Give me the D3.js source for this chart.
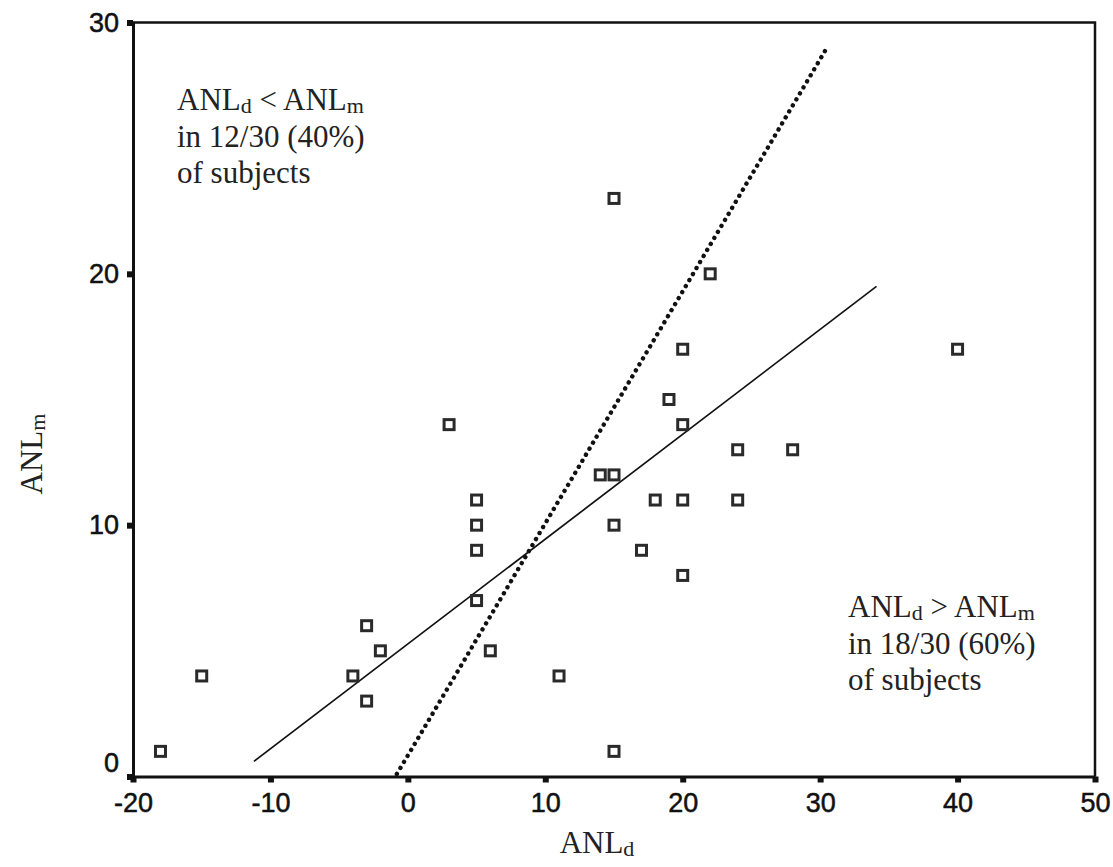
<!DOCTYPE html>
<html>
<head>
<meta charset="utf-8">
<script src="https://cdn.jsdelivr.net/npm/d3@7"></script>
<style>
  body { margin: 0; background: #fff; }
  svg { display: block; }
</style>
</head>
<body>
<svg id="vis" width="1113" height="867"></svg>
<script>
// ANL_d (x) and ANL_m (y) for the 30 subjects
const anlD = [-18, -15, -4, -3, -3, -2, 3, 5, 5, 5, 5, 6, 11, 14, 15, 15, 15, 15, 17, 18, 19, 20, 20, 20, 20, 22, 24, 24, 28, 40];
const anlM = [1, 4, 4, 3, 6, 5, 14, 11, 10, 9, 7, 5, 4, 12, 12, 10, 23, 1, 9, 11, 15, 17, 14, 11, 8, 20, 13, 11, 13, 17];

// fitted line (solid) and the dotted line, as end points in data units
const fitX = [-11.2, 34.1];
const fitY = [0.6, 19.5];
const dotX = [-0.8, 30.5];
const dotY = [0.1, 29.0];

const xTicks = [-20, -10, 0, 10, 20, 30, 40, 50];
const yTicks = [0, 10, 20, 30];

const svg = d3.select("#vis");

// SCALES
const x = d3.scaleLinear().domain([-20, 50]).range([133, 1095]);
const y = d3.scaleLinear().domain([0, 30]).range([776.5, 22.5]);

const points = anlD.map((d, i) => ({ x: d, y: anlM[i] }));

// frame (top and right)
svg.append("path")
  .attr("d", `M${x(-20)},${y(30)}H${x(50)}V${y(0)}`)
  .attr("fill", "none")
  .attr("stroke", "#111")
  .attr("stroke-width", 2.5);

// axes - plain hyphen minus like the original
const xAxis = d3.axisBottom(x).tickValues(xTicks).tickSize(0).tickPadding(16)
  .tickFormat(d => String(d));
const yAxis = d3.axisLeft(y).tickValues(yTicks).tickSize(0).tickPadding(14)
  .tickFormat(d => String(d));

const gx = svg.append("g")
  .attr("transform", `translate(0,${y(0)})`)
  .call(xAxis);
const gy = svg.append("g")
  .attr("transform", `translate(${x(-20)},0)`)
  .call(yAxis);

[gx, gy].forEach(g => {
  g.select(".domain").attr("stroke", "#111").attr("stroke-width", 3);
  g.selectAll("text")
    .attr("fill", "#111")
    .style("font-family", "'Liberation Sans', Arial, sans-serif")
    .style("font-size", "27px")
    .style("stroke", "#111")
    .style("stroke-width", "0.5px");
});

// little block ticks
gx.selectAll(".tick").append("rect")
  .attr("x", -3).attr("y", 0).attr("width", 6).attr("height", 6)
  .attr("fill", "#111");
gy.selectAll(".tick").append("rect")
  .attr("x", -6).attr("y", -3).attr("width", 6).attr("height", 6)
  .attr("fill", "#111");

// "0" label sits a bit above the axis
gy.selectAll(".tick").filter(d => d === 0).select("text").attr("dy", "-0.2em");

// lines
const line = d3.line().x(d => x(d[0])).y(d => y(d[1]));

svg.append("path")
  .datum(fitX.map((v, i) => [v, fitY[i]]))
  .attr("d", line)
  .attr("fill", "none")
  .attr("stroke", "#111")
  .attr("stroke-width", 1.7);

svg.append("path")
  .datum(dotX.map((v, i) => [v, dotY[i]]))
  .attr("d", line)
  .attr("fill", "none")
  .attr("stroke", "#111")
  .attr("stroke-width", 4.4)
  .attr("stroke-linecap", "round")
  .attr("stroke-dasharray", "0.1 6.9");

// points
svg.append("g")
  .selectAll("rect")
  .data(points)
  .join("rect")
  .attr("x", d => x(d.x) - 5)
  .attr("y", d => y(d.y) - 5)
  .attr("width", 10)
  .attr("height", 10)
  .attr("fill", "#fff")
  .attr("stroke", "#2a2a2a")
  .attr("stroke-width", 3);

// text helpers
const serif = "'Liberation Serif', 'Times New Roman', serif";

function anl(sel, sub) {
  sel.append("tspan").text("ANL");
  sel.append("tspan").text(sub)
    .style("font-size", "22px")
    .attr("dy", 3);
}

function note(px, py, rel, line2) {
  const t = svg.append("text")
    .attr("x", px).attr("y", py)
    .attr("fill", "#222")
    .style("font-family", serif)
    .style("font-size", "31px");
  const first = t.append("tspan");
  anl(first, "d");
  first.append("tspan").text(" " + rel + " ").attr("dy", -3);
  anl(first, "m");
  svg.append("text")
    .attr("x", px).attr("y", py + 37)
    .attr("fill", "#222")
    .style("font-family", serif)
    .style("font-size", "31px")
    .text(line2);
  svg.append("text")
    .attr("x", px).attr("y", py + 73)
    .attr("fill", "#222")
    .style("font-family", serif)
    .style("font-size", "31px")
    .text("of subjects");
}

note(177, 110, "<", "in 12/30 (40%)");
note(848, 617, ">", "in 18/30 (60%)");

// axis titles
const xt = svg.append("text")
  .attr("x", 597).attr("y", 853)
  .attr("text-anchor", "middle")
  .attr("fill", "#222")
  .style("font-family", serif)
  .style("font-size", "31px");
anl(xt, "d");

const yt = svg.append("text")
  .attr("transform", "translate(42,454) rotate(-90)")
  .attr("text-anchor", "middle")
  .attr("fill", "#222")
  .style("font-family", serif)
  .style("font-size", "31px");
anl(yt, "m");
</script>
</body>
</html>
